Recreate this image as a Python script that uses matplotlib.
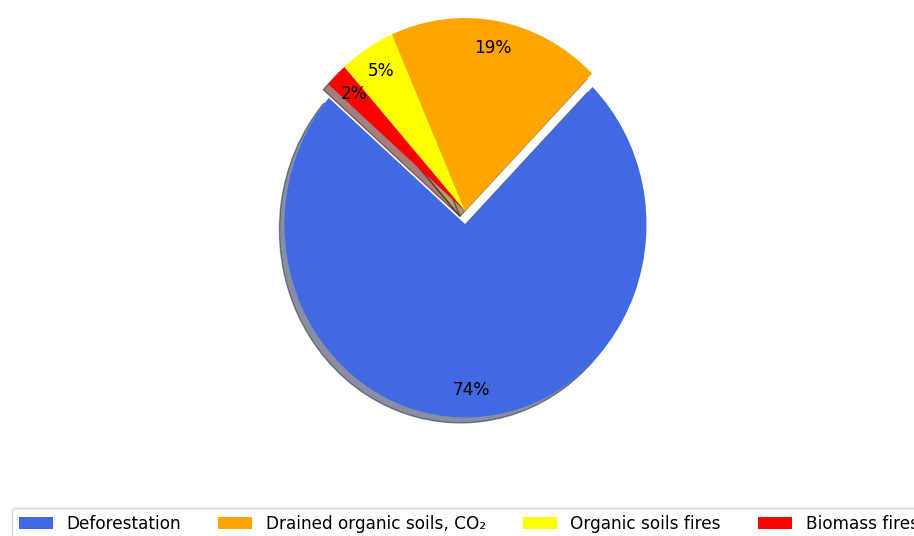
import matplotlib
matplotlib.use("Agg")
import matplotlib.pyplot as plt

# Data
sources = ["Deforestation", "Drained organic soils, CO₂", "Organic soils fires", "Biomass fires"]
shares = [74, 19, 5, 2]
colors = ["royalblue", "orange", "yellow", "red"]
explode = [0.07, 0, 0, 0]

plt.rcParams["font.size"] = 12.2

fig = plt.figure(figsize=(9.14, 5.36), dpi=100)
# the pie in the reference is a little taller than wide, so the box is too
rx, ry = 181, 193
cx, cy = 465, 536 - 211
ax = fig.add_axes([(cx - 1.25 * rx) / 914, (cy - 1.25 * ry) / 536,
                   2.5 * rx / 914, 2.5 * ry / 536])

wedges, texts, autotexts = ax.pie(shares, colors=colors, explode=explode,
                                  autopct="%1.0f%%", pctdistance=0.86,
                                  startangle=139, shadow=True)
ax.set_aspect("auto")
ax.set_xlim(-1.25, 1.25)
ax.set_ylim(-1.25, 1.25)

fig.legend(wedges, sources, ncol=4, loc="upper left",
           bbox_to_anchor=(12 / 914, 1 - 508 / 536),
           bbox_transform=fig.transFigure, borderaxespad=0,
           columnspacing=2.2)

fig.savefig("out.png", dpi=100)
